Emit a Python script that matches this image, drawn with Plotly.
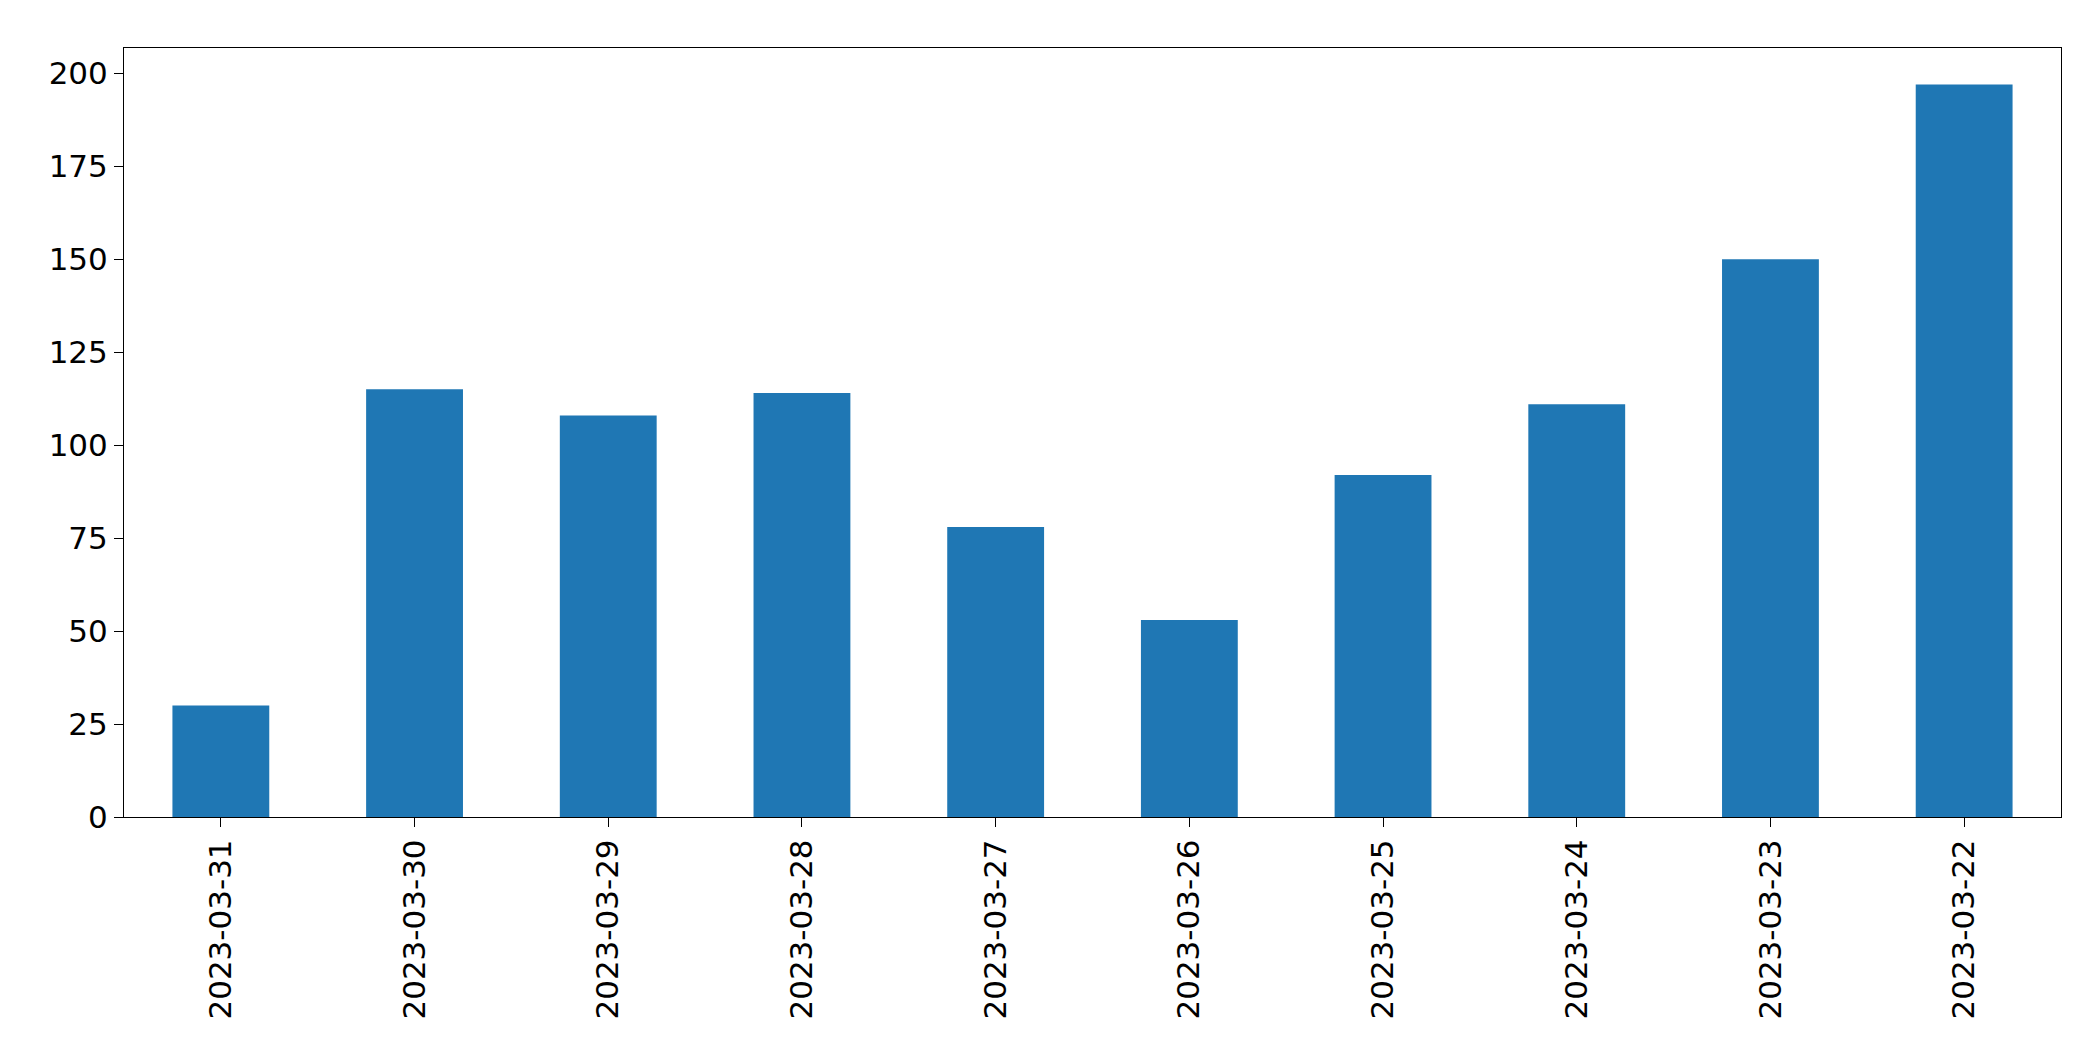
import plotly.graph_objects as go

dates = ["2023-03-31","2023-03-30","2023-03-29","2023-03-28","2023-03-27",
         "2023-03-26","2023-03-25","2023-03-24","2023-03-23","2023-03-22"]
counts = [30, 115, 108, 114, 78, 53, 92, 111, 150, 197]

fig = go.Figure(go.Bar(x=dates, y=counts, width=0.5, marker_color="#1f77b4", marker_line_width=0))
axis = dict(showline=True, linecolor="black", linewidth=1, mirror=True, ticks="outside",
            ticklen=9, tickcolor="black", showgrid=False, zeroline=False,
            tickfont=dict(family="DejaVu Sans", size=31, color="black"))
fig.update_layout(
    width=2093, height=1061, plot_bgcolor="white", paper_bgcolor="white",
    margin=dict(l=116, r=40, t=40, b=252), showlegend=False,
    xaxis=dict(axis, type="category", range=[-0.5, 9.5], tickangle=-90),
    yaxis=dict(axis, range=[0, 206.8], tickvals=[0,25,50,75,100,125,150,175,200]),
)
fig.write_html("out.html")
